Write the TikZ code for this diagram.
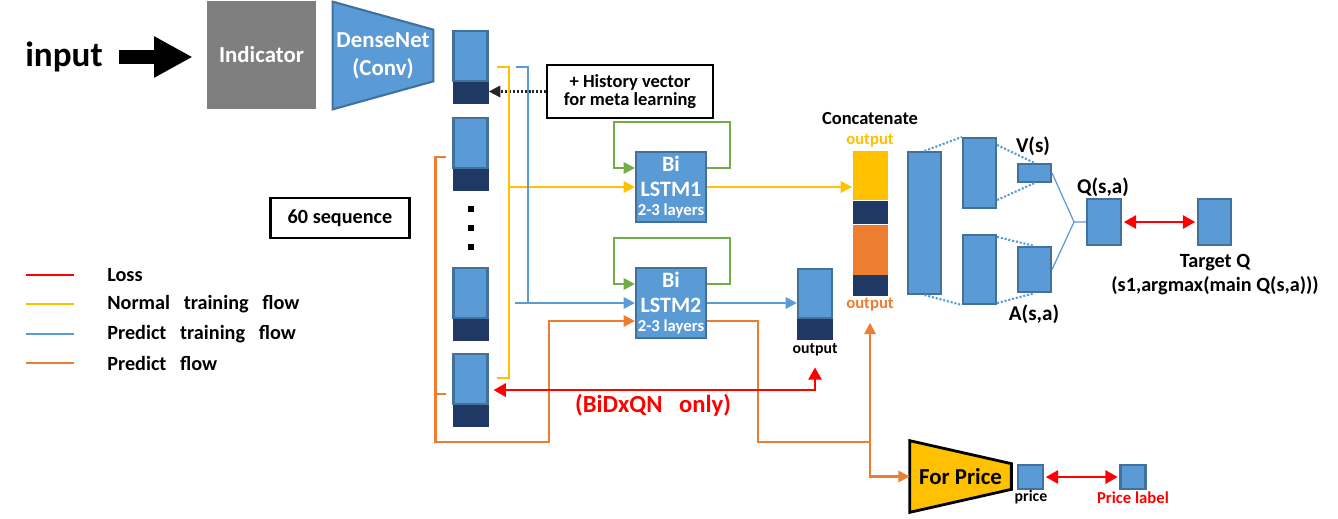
\documentclass[tikz,border=0pt]{standalone}
\usepackage{fontspec}
\setmainfont{Carlito}
\usetikzlibrary{arrows.meta,calc,positioning,backgrounds}
\definecolor{boxblue}{RGB}{91,155,213}
\definecolor{edgeblue}{RGB}{65,113,156}
\definecolor{navy}{RGB}{32,56,100}
\definecolor{indgray}{RGB}{127,127,127}
\definecolor{flowyellow}{RGB}{255,192,0}
\definecolor{floworange}{RGB}{237,125,49}
\definecolor{flowgreen}{RGB}{112,173,71}
\definecolor{lossred}{RGB}{255,0,0}
\newcommand\fs[2]{\fontsize{#1}{#2}\selectfont}
\begin{document}
\begin{tikzpicture}[x=0.02cm,y=-0.02cm,>={Triangle[length=6.5pt,width=6.5pt]},
  vec/.style={draw=edgeblue,fill=boxblue,line width=1.2pt,minimum width=0.68cm,inner sep=0pt},
  navybox/.style={fill=navy,minimum width=0.72cm,minimum height=0.44cm,inner sep=0pt},
  lstm/.style={vec,minimum width=1.4cm,minimum height=1.4cm,text=white,align=center,font=\bfseries\fs{12.5}{14}},
  lbl/.style={font=\bfseries\fs{11.5}{14}},
  small/.style={font=\bfseries\fs{9}{11}},
  yflow/.style={draw=flowyellow,line width=1.2pt},
  bflow/.style={draw=boxblue,line width=1.2pt},
  oflow/.style={draw=floworange,line width=1.2pt},
  gflow/.style={draw=flowgreen,line width=1.2pt},
  rflow/.style={draw=lossred,line width=1.4pt,>={Triangle[length=7pt,width=7.5pt]}},
  bdot/.style={draw=boxblue,line width=1.2pt,densely dotted}]
  \useasboundingbox (0,0) rectangle (1338,518);

  \node[font=\bfseries\fs{20}{24},inner sep=0pt] (inp) at (64,57) {input};
  \node[fill=indgray,minimum width=2.18cm,minimum height=2.16cm,text=white,font=\bfseries\fs{13}{16}] (ind) at (261.5,55) {Indicator};
  \draw[line width=8pt,-{Triangle[length=22pt,width=22pt]},shorten <=0.32cm,shorten >=0.28cm] (inp.east) -- (inp.east -| ind.west);

  \node[minimum width=2cm,minimum height=2.14cm,inner sep=0pt,text=white,align=center,font=\bfseries\fs{13}{16}] (dn) at (383,55.5) {DenseNet\\(Conv)};
  \begin{pgfonlayer}{background}
    \draw[draw=edgeblue,fill=boxblue,line width=1.2pt] (dn.north west) -- ($(dn.north east)+(0,28)$) -- ($(dn.south east)+(0,-28)$) -- (dn.south west) -- cycle;
  \end{pgfonlayer}

  \foreach \i/\y in {1/30,2/117,3/267,4/353}{
    \node[vec,minimum height=1cm,anchor=north] (s\i) at (470.5,\y) {};
    \node[navybox,anchor=north] (c\i) at (s\i.south) {};
  }
  \foreach \y in {209,228,247} \fill (471,\y) +(-3,-3) rectangle +(3,3);

  \node[draw,line width=1.2pt,minimum width=3.32cm,minimum height=1.06cm,align=center,font=\bfseries\fs{10.5}{10.3}] (hist) at (630,91.5) {+ History vector\\for meta learning};
  \draw[densely dotted,line width=1.2pt,draw=black!85,->] (hist.west) -- (hist.west -| c1.east);
  \node[draw,line width=1.2pt,minimum width=2.78cm,minimum height=0.8cm,font=\bfseries\fs{11.5}{13}] (seq) at (340,218) {60 sequence};

  \node[lstm] (l1) at (671,187) {Bi\\LSTM1\\[-3pt]{\fs{9.5}{11}2-3 layers}};
  \node[lstm] (l2) at (671,303) {Bi\\LSTM2\\[-3pt]{\fs{9.5}{11}2-3 layers}};
  \foreach \l in {l1,l2}
    \draw[gflow,->] ($(\l.east)+(0,-19)$) -- ++(23,0) |- ++(-116,-46) -- ++(0,46) -- ($(\l.west)+(0,-19)$);

  \node[fill=flowyellow,minimum width=0.7cm,minimum height=0.98cm,inner sep=0pt,anchor=north] (cy) at (870,151) {};
  \node[navybox,minimum width=0.7cm,minimum height=0.46cm,anchor=north] (cn1) at (cy.south) {};
  \node[fill=floworange,minimum width=0.7cm,minimum height=1cm,inner sep=0pt,anchor=north] (co) at (cn1.south) {};
  \node[navybox,minimum width=0.7cm,minimum height=0.42cm,anchor=north] (cn2) at (co.south) {};
  \node[lbl,font=\bfseries\fs{10.5}{12}] (cat) at (870,119) {Concatenate};
  \node[small,text=flowyellow,font=\bfseries\fs{9.5}{11}] (cylbl) at (870,141) {output};
  \node[small,text=floworange,font=\bfseries\fs{9.5}{11}] (colbl) at (870,305) {output};

  \node[vec,minimum height=0.98cm,anchor=north] (out) at (815,268) {};
  \node[navybox,minimum height=0.42cm,anchor=north] (outn) at (out.south) {};
  \node[small] (outlbl) at (815,350) {output};

  \coordinate (yj) at (508,187);
  \draw[yflow] ($(s1.east)+(8,11)$) -- ++(12,0) |- ($(s4.east)+(8,-1)$);
  \draw[yflow,->] (yj) -- (l1.west);
  \draw[yflow,->] (l1.east) -- (l1.east -| cy.west);

  \coordinate (bj) at (528,303);
  \draw[bflow] ($(s1.east)+(27,11)$) -| (bj);
  \draw[bflow,->] ($(bj)+(-13,0)$) -- (l2.west);
  \draw[bflow,->] (l2.east) -- (l2.east -| out.west);

  \coordinate (ob) at (549,442);
  \coordinate (oc) at (870,442);
  \draw[oflow,->] ($(s2.west)+(-6,14)$) -- ++(-11,0) |- (ob) |- ($(l2.west)+(0,18)$);
  \draw[oflow] ($(s4.west)+(-6,15)$) -- ++(-11,0);
  \draw[oflow] ($(l2.east)+(0,18)$) -- ++(51,0) |- (oc);
  \draw[oflow,->] (oc) -- ($(colbl.south)+(0,5)$);

  \draw[rflow,<->] ($(s4.east)+(5,11)$) -| ($(outlbl.south)+(0,5)$);
  \node[font=\bfseries\fs{14}{16},text=lossred] (bidx) at (653,405) {(BiDxQN\ \ \ only)};

  \node[minimum width=2.02cm,minimum height=1.42cm,inner sep=0pt,font=\bfseries\fs{13}{15}] (fp) at (960.5,476.5) {For Price};
  \begin{pgfonlayer}{background}
    \draw[fill=flowyellow,line width=1.6pt] (fp.north west) -- ($(fp.north east)+(0,23)$) -- ($(fp.south east)+(0,-23)$) -- (fp.south west) -- cycle;
  \end{pgfonlayer}
  \draw[oflow,->] (oc) |- (fp.west);

  \node[vec,minimum width=0.5cm,minimum height=0.48cm] (pb) at (1030.5,477) {};
  \node[vec,minimum width=0.5cm,minimum height=0.48cm] (plb) at (1133,477) {};
  \draw[rflow,<->,shorten <=1pt,shorten >=1pt] (pb) -- (plb);
  \node[small] (pbl) at (1031,497) {price};
  \node[small,text=lossred,font=\bfseries\fs{9.5}{11}] (plbl) at (1133,498) {Price label};

  \node[vec,minimum width=0.66cm,minimum height=2.84cm] (fc1) at (924.5,223) {};
  \node[vec,minimum width=0.66cm,minimum height=1.4cm] (fc2) at (979.5,173) {};
  \node[vec,minimum width=0.66cm,minimum height=1.38cm] (fc3) at (979.5,269.5) {};
  \node[vec,minimum width=0.66cm,minimum height=0.36cm] (vb) at (1034.5,173) {};
  \node[vec,minimum width=0.66cm,minimum height=0.9cm] (ab) at (1034.5,269.5) {};
  \node[vec,minimum width=0.68cm,minimum height=0.92cm] (qb) at (1104,222) {};
  \node[vec,minimum width=0.66cm,minimum height=0.92cm] (tb) at (1214.5,222) {};
  \draw[bdot] (fc1.north) -- (fc2.north west);
  \draw[bdot] (fc1.south) -- (fc3.south west);
  \draw[bdot] ($(fc2.north east)+(0,8)$) -- (vb.north);
  \draw[bdot] ($(fc2.south east)+(0,-9)$) -- (vb.south);
  \draw[bdot] ($(fc3.north east)+(0,3)$) -- (ab.north);
  \draw[bdot] ($(fc3.south east)+(0,-2)$) -- (ab.south);
  \coordinate (qj) at (1074,222);
  \draw[draw=boxblue,line width=0.7pt] (vb.east) -- (qj) -- (qb.west);
  \draw[draw=boxblue,line width=0.7pt] (ab.east) -- (qj);
  \draw[rflow,<->,shorten <=1pt,shorten >=1pt] (qb) -- (tb);
  \node[lbl,font=\bfseries\fs{12}{14}] (vlbl) at (1033,146) {V(s)};
  \node[lbl,font=\bfseries\fs{12}{14}] (albl) at (1034,314) {A(s,a)};
  \node[lbl,font=\bfseries\fs{12}{14}] (qlbl) at (1103,187) {Q(s,a)};
  \node[lbl,align=center] (tqlbl) at (1215,274.5) {Target Q\\(s1,argmax(main Q(s,a)))};

  \foreach \i/\y/\c/\t in {1/275/lossred/{Loss},2/304/flowyellow/{Normal\ \ \ training\ \ \ flow},3/334/boxblue/{Predict\ \ \ training\ \ \ flow},4/363/floworange/{Predict\ \ \ flow}}{
    \node[anchor=west,inner sep=0pt,font=\bfseries\fs{11.5}{13}] (lg\i) at (107,\y) {\t};
    \draw[draw=\c,line width=1.2pt] ($(lg\i.west)+(-81,0)$) -- ++(48,0);
  }
\end{tikzpicture}
\end{document}
